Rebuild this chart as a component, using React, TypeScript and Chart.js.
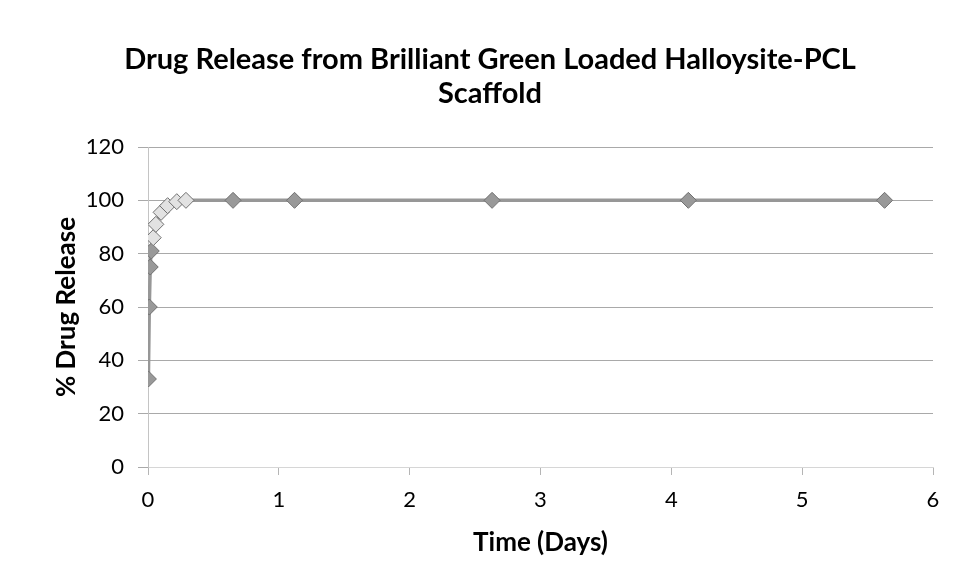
import React, { useEffect, useRef } from "react";
import { Chart, registerables } from "chart.js";

Chart.register(...registerables);

// Release profile: time in days, cumulative % of drug released
const timeDays = [0.003, 0.01, 0.017, 0.025, 0.04, 0.06, 0.1, 0.15, 0.22, 0.29, 0.65, 1.12, 2.63, 4.13, 5.63];
const releasePct = [33, 60, 75, 81, 86, 91, 95.5, 98, 99.5, 100, 100, 100, 100, 100, 100];

const titleLines = ["Drug Release from Brilliant Green Loaded Halloysite-PCL", "Scaffold"];
const xAxisTitle = "Time (Days)";
const yAxisTitle = "% Drug Release";

const FONT = "Lato, 'Open Sans', sans-serif";

const titlePlugin = {
  id: "twoLineTitle",
  afterDraw(chart: any) {
    const { ctx } = chart;
    ctx.save();
    ctx.fillStyle = "#000";
    ctx.font = `bold 29px ${FONT}`;
    ctx.textAlign = "center";
    ctx.textBaseline = "middle";
    ctx.fillText(titleLines[0], 490, 60);
    ctx.fillText(titleLines[1], 490, 94);
    ctx.restore();
  },
};

export default function App() {
  const canvasRef = useRef<HTMLCanvasElement | null>(null);

  useEffect(() => {
    if (!canvasRef.current) return;
    const points = timeDays.map((t, i) => ({ x: t, y: releasePct[i] }));
    // markers on the rising shoulder of the curve are paler
    const fills = timeDays.map((t) => (t > 0.03 && t < 0.3 ? "#e2e2e2" : "#999999"));
    const chart = new Chart(canvasRef.current, {
      type: "line",
      data: {
        datasets: [
          {
            data: points,
            borderColor: "#979797",
            borderWidth: 3.5,
            backgroundColor: "#8f8f8f",
            pointStyle: "rectRot",
            pointRadius: 8,
            pointBorderColor: "#707070",
            pointBorderWidth: 1,
            pointBackgroundColor: fills,
            cubicInterpolationMode: "monotone",
            fill: false,
          },
        ],
      },
      options: {
        animation: false,
        responsive: false,
        maintainAspectRatio: false,
        layout: { padding: { left: 0, right: 26, top: 147, bottom: 0 } },
        plugins: {
          legend: { display: false },
          title: { display: false },
          tooltip: { enabled: false },
        },
        scales: {
          x: {
            type: "linear",
            min: 0,
            max: 6,
            afterFit(scale: any) {
              scale.height = 121;
            },
            ticks: {
              stepSize: 1,
              color: "#000",
              padding: 12,
              font: { family: FONT, size: 22 },
            },
            grid: {
              display: true,
              drawOnChartArea: false,
              drawTicks: true,
              tickLength: 8,
              color: "#b5b5b5",
            },
            border: { display: true, color: "#d6d6d6", width: 1 },
            title: {
              display: true,
              text: xAxisTitle,
              color: "#000",
              font: { family: FONT, size: 26, weight: "bold" },
              padding: { top: 0, bottom: 30 },
            },
          },
          y: {
            min: 0,
            max: 120,
            afterFit(scale: any) {
              scale.width = 148;
            },
            ticks: {
              stepSize: 20,
              color: "#000",
              padding: 14,
              font: { family: FONT, size: 22 },
            },
            grid: {
              color: "#a9a9a9",
              lineWidth: 1,
              tickLength: 10,
            },
            border: { display: true, color: "#c4c4c4", width: 1 },
            title: {
              display: true,
              text: yAxisTitle,
              color: "#000",
              font: { family: FONT, size: 26, weight: "bold" },
              padding: { top: 51, bottom: 0 },
            },
          },
        },
      },
      plugins: [titlePlugin],
    });
    return () => chart.destroy();
  }, []);

  return (
    <div style={{ position: "fixed", left: 0, top: 0, width: 959, height: 588, background: "#fff" }}>
      <canvas ref={canvasRef} width={959} height={588} style={{ display: "block" }} />
    </div>
  );
}
